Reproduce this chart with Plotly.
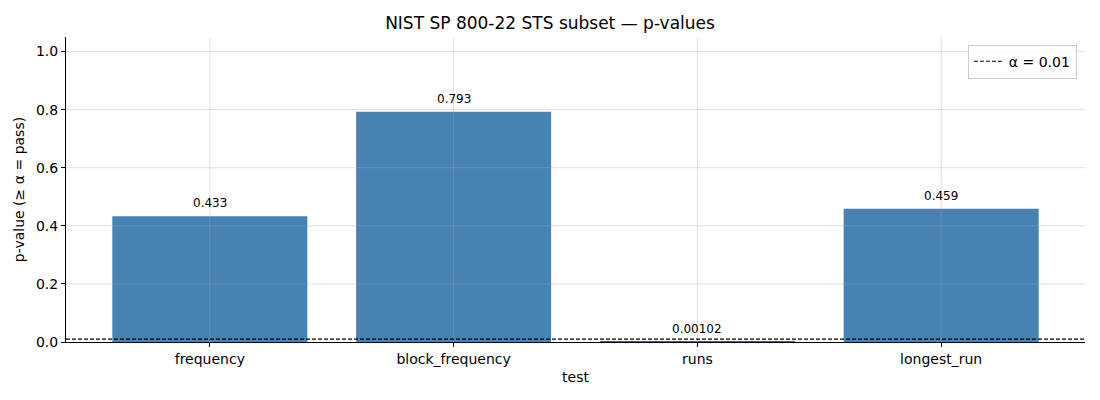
import plotly.graph_objects as go

tests = ["frequency", "block_frequency", "runs", "longest_run"]
p_values = [0.433, 0.793, 0.00102, 0.459]
alpha = 0.01
labels = ["0.433", "0.793", "0.00102", "0.459"]
y_ticks = [0, 0.2, 0.4, 0.6, 0.8, 1.0]

colors = ["steelblue" if p >= alpha else "#d62728" for p in p_values]
grid_color = "rgba(170,170,170,0.35)"

fig = go.Figure()
fig.add_trace(go.Bar(
    x=tests, y=p_values, marker_color=colors, marker_line_width=0,
    width=0.8, showlegend=False,
))

# value labels above bars
for t, p, lab in zip(tests, p_values, labels):
    fig.add_annotation(x=t, y=p, text=lab, showarrow=False, yanchor="bottom",
                       yshift=4, font=dict(size=12, color="black"))

# grid drawn over the bars like the original
for t in tests:
    fig.add_shape(type="line", xref="x", x0=t, x1=t, yref="y domain", y0=0, y1=1,
                  line=dict(color=grid_color, width=1), layer="above")
for v in y_ticks[1:]:
    fig.add_shape(type="line", xref="x domain", x0=0, x1=1, yref="y", y0=v, y1=v,
                  line=dict(color=grid_color, width=1), layer="above")

# alpha threshold line (shown in legend)
fig.add_shape(type="line", xref="x domain", x0=0, x1=1, yref="y", y0=alpha, y1=alpha,
              line=dict(color="black", width=1.2, dash="4px,2px"), layer="above",
              showlegend=True, name="α = 0.01")

fig.update_layout(
    width=1100, height=400,
    font=dict(family="DejaVu Sans", size=14, color="black"),
    title=dict(text="NIST SP 800-22 STS subset — p-values", x=0.5, xanchor="center",
               y=0.942, yanchor="middle", font=dict(size=17)),
    plot_bgcolor="white", paper_bgcolor="white",
    margin=dict(l=66, r=15, t=37, b=58),
    legend=dict(x=0.992, y=0.975, xanchor="right", yanchor="top",
                bordercolor="#cccccc", borderwidth=1, bgcolor="rgba(255,255,255,0.8)",
                font=dict(size=14)),
)
fig.update_xaxes(
    title=dict(text="test", standoff=6, font=dict(size=14)), range=[-0.59, 3.59],
    tickfont=dict(size=14),
    showline=True, linecolor="black", linewidth=1,
    ticks="outside", ticklen=4, tickcolor="black",
    showgrid=False, layer="above traces",
)
fig.update_yaxes(
    title=dict(text="p-value (≥ α = pass)", standoff=8, font=dict(size=14)), range=[0, 1.05],
    tickvals=y_ticks, tickformat=".1f", tickfont=dict(size=14),
    showline=True, linecolor="black", linewidth=1,
    ticks="outside", ticklen=4, tickcolor="black",
    showgrid=False, zeroline=False, layer="above traces",
)

fig.write_html("out.html", config={"displayModeBar": False},
               post_script="document.body.style.margin='0';")
